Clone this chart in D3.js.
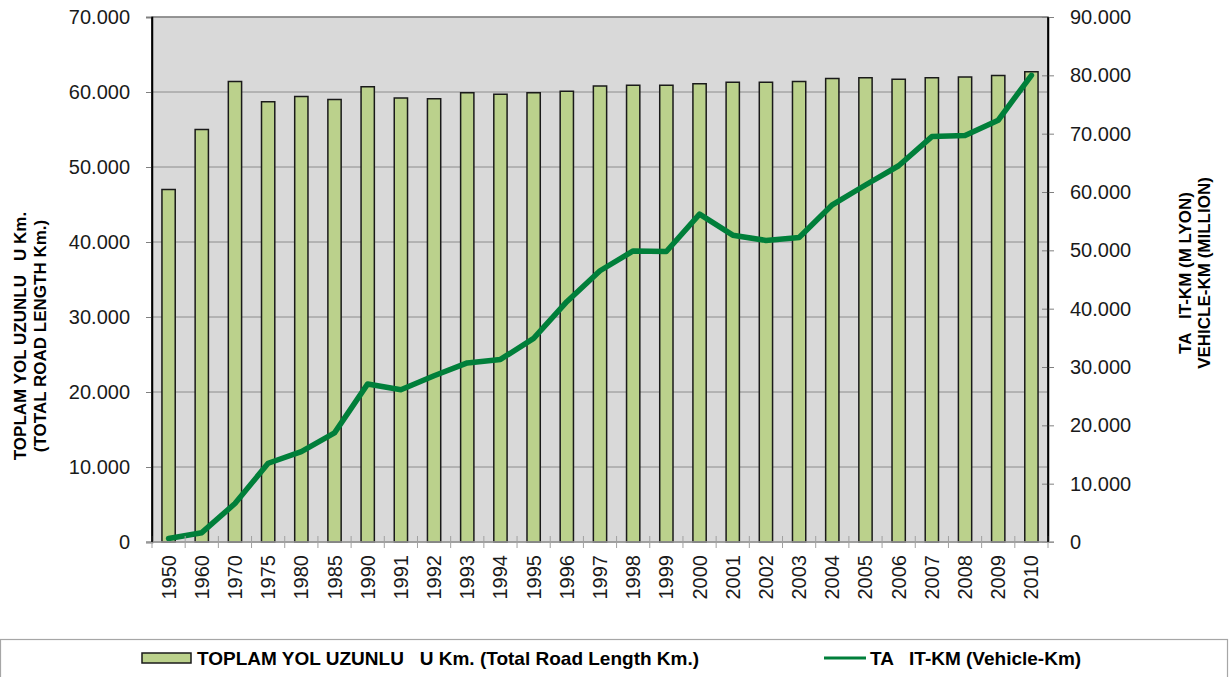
<!DOCTYPE html>
<html>
<head>
<meta charset="utf-8">
<script src="https://cdn.jsdelivr.net/npm/d3@7"></script>
<style>
  html, body { margin: 0; padding: 0; background: #fff; }
  svg { display: block; font-family: "Liberation Sans", Arial, sans-serif; }
  text { white-space: pre; }
</style>
</head>
<body>
<svg id="chart" width="1229" height="677"></svg>
<script>
const years = ["1950","1960","1970","1975","1980","1985","1990","1991","1992","1993","1994","1995","1996","1997","1998","1999","2000","2001","2002","2003","2004","2005","2006","2007","2008","2009","2010"];
const roadLength = [47000,55000,61400,58700,59400,59000,60700,59200,59100,59900,59700,59900,60100,60800,60900,60900,61100,61300,61300,61400,61800,61900,61700,61900,62000,62200,62700];
const vehicleKm = [600,1600,6600,13500,15500,18700,27100,26100,28500,30700,31300,34900,41200,46500,49900,49800,56200,52600,51700,52200,57800,61200,64500,69500,69700,72300,80000];
const leftTicks = [0,10000,20000,30000,40000,50000,60000,70000];
const rightTicks = [0,10000,20000,30000,40000,50000,60000,70000,80000,90000];
const leftTitle = ["TOPLAM YOL UZUNLU   U Km.", "(TOTAL ROAD LENGTH Km.)"];
const rightTitle = ["TA   IT-KM (M LYON)", "VEHICLE-KM (MILLION)"];
const legendLabels = ["TOPLAM YOL UZUNLU   U Km. (Total Road Length Km.)", "TA   IT-KM (Vehicle-Km)"];

const fmt = v => v === 0 ? "0" : d3.format(",")(v).replace(/,/g, ".");

const svg = d3.select("#chart");
const L = 152, R = 1048, T = 17, B = 542;

const x = d3.scaleBand().domain(years).range([L, R]).paddingInner(0.6).paddingOuter(0.3);
const yL = d3.scaleLinear().domain([0, 70000]).range([B, T]);
const yR = d3.scaleLinear().domain([0, 90000]).range([B, T]);

// plot background
svg.append("rect").attr("x", L).attr("y", T).attr("width", R - L).attr("height", B - T)
  .attr("fill", "#D9D9D9").attr("stroke", "#808080").attr("stroke-width", 1.5);

// gridlines
svg.append("g").selectAll("line").data(leftTicks.slice(1)).join("line")
  .attr("x1", L).attr("x2", R).attr("y1", d => yL(d)).attr("y2", d => yL(d))
  .attr("stroke", "#8C8C8C").attr("stroke-width", 1);

// bars
svg.append("g").selectAll("rect").data(years).join("rect")
  .attr("x", d => x(d)).attr("width", x.bandwidth())
  .attr("y", (d, i) => yL(roadLength[i])).attr("height", (d, i) => B - yL(roadLength[i]))
  .attr("fill", "#BBD18C").attr("stroke", "#1A1A1A").attr("stroke-width", 1.5);

// line
const line = d3.line().x((d, i) => x(years[i]) + x.bandwidth() / 2).y(d => yR(d));
svg.append("path").datum(vehicleKm).attr("d", line)
  .attr("fill", "none").attr("stroke", "#007F3A").attr("stroke-width", 5.5)
  .attr("stroke-linejoin", "round").attr("stroke-linecap", "round");

// left axis
const axL = svg.append("g").attr("transform", `translate(${L},0)`)
  .call(d3.axisLeft(yL).tickValues(leftTicks).tickFormat(fmt).tickSize(6).tickPadding(16));
axL.select(".domain").attr("stroke", "#000").attr("stroke-width", 1.5);
axL.selectAll(".tick line").attr("stroke", "#808080");
axL.selectAll("text").attr("font-size", 20).attr("fill", "#1a1a1a")
  .attr("font-family", "Liberation Sans, Arial, sans-serif");

// right axis
const axR = svg.append("g").attr("transform", `translate(${R},0)`)
  .call(d3.axisRight(yR).tickValues(rightTicks).tickFormat(fmt).tickSizeInner(6).tickSizeOuter(0).tickPadding(16));
axR.select(".domain").attr("stroke", "#000").attr("stroke-width", 1.5);
axR.selectAll(".tick line").attr("x1", -6).attr("stroke", "#808080");
axR.selectAll("text").attr("font-size", 20).attr("fill", "#1a1a1a")
  .attr("font-family", "Liberation Sans, Arial, sans-serif");

// bottom axis: ticks at band boundaries
const step = x.step();
const boundaries = d3.range(years.length + 1).map(i => L + i * step);
const gB = svg.append("g");
gB.append("line").attr("x1", L - 6).attr("x2", R + 6).attr("y1", B).attr("y2", B)
  .attr("stroke", "#A0A0A0").attr("stroke-width", 1.5);
gB.selectAll("line.tk").data(boundaries).join("line").attr("class", "tk")
  .attr("x1", d => d).attr("x2", d => d).attr("y1", B - 6).attr("y2", B + 6)
  .attr("stroke", "#A0A0A0").attr("stroke-width", 1);
svg.append("line").attr("x1", L).attr("x2", L).attr("y1", T).attr("y2", B).attr("stroke", "#000").attr("stroke-width", 1.5);
svg.append("line").attr("x1", R).attr("x2", R).attr("y1", T).attr("y2", B).attr("stroke", "#000").attr("stroke-width", 1.5);

gB.selectAll("text").data(years).join("text")
  .attr("transform", d => `translate(${x(d) + x.bandwidth() / 2},555) rotate(-90)`)
  .attr("text-anchor", "end").attr("dy", "0.35em")
  .attr("font-size", 20).attr("fill", "#1a1a1a").text(d => d);

// axis titles
svg.append("g").selectAll("text").data(leftTitle).join("text")
  .attr("transform", (d, i) => `translate(${20 + i * 20},336) rotate(-90)`)
  .attr("text-anchor", "middle").attr("dy", "0.35em")
  .attr("font-size", 17).attr("font-weight", "bold").attr("fill", "#000").text(d => d);
svg.append("g").selectAll("text").data(rightTitle).join("text")
  .attr("transform", (d, i) => `translate(${1185 + i * 19},273) rotate(-90)`)
  .attr("text-anchor", "middle").attr("dy", "0.35em")
  .attr("font-size", 17).attr("font-weight", "bold").attr("fill", "#000").text(d => d);

// legend
svg.append("rect").attr("x", 0.5).attr("y", 639.5).attr("width", 1227).attr("height", 60)
  .attr("fill", "#fff").attr("stroke", "#A6A6A6").attr("stroke-width", 1.2);
svg.append("rect").attr("x", 142).attr("y", 653).attr("width", 49).attr("height", 10)
  .attr("fill", "#BBD18C").attr("stroke", "#1A1A1A").attr("stroke-width", 1.5);
svg.append("text").attr("x", 197).attr("y", 658).attr("dy", "0.35em")
  .attr("font-size", 19).attr("font-weight", "bold").attr("fill", "#000").text(legendLabels[0]);
svg.append("line").attr("x1", 824).attr("x2", 866).attr("y1", 658).attr("y2", 658)
  .attr("stroke", "#007F3A").attr("stroke-width", 3);
svg.append("text").attr("x", 870).attr("y", 658).attr("dy", "0.35em")
  .attr("font-size", 19).attr("font-weight", "bold").attr("fill", "#000").text(legendLabels[1]);
</script>
</body>
</html>
